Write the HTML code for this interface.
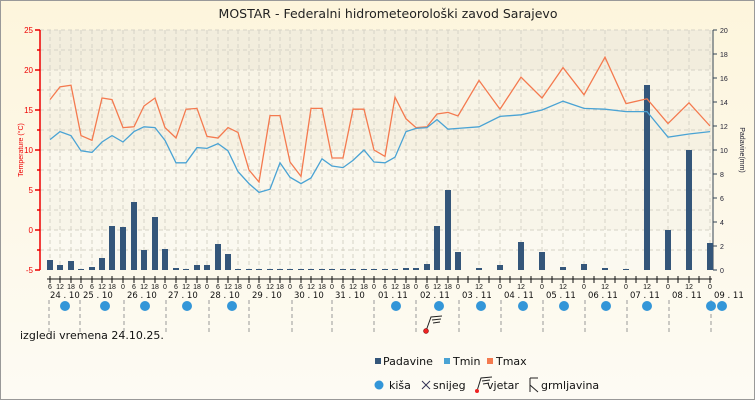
<!DOCTYPE html>
<html><head><meta charset="utf-8"><style>
html,body{margin:0;padding:0;}
body{width:755px;height:400px;overflow:hidden;font-family:"Liberation Sans",sans-serif;}
</style></head><body>
<svg width="755" height="400" xmlns="http://www.w3.org/2000/svg" font-family="DejaVu Sans, sans-serif">
<defs>
<linearGradient id="bg" x1="0" y1="0" x2="0" y2="1"><stop offset="0" stop-color="#fdf5dc"/><stop offset="1" stop-color="#fdfbf4"/></linearGradient>
</defs>
<rect x="0.5" y="0.5" width="754" height="399" fill="url(#bg)" stroke="#999"/>
<text x="388" y="18" font-size="12.5" text-anchor="middle" fill="#222">MOSTAR - Federalni hidrometeorološki zavod Sarajevo</text>
<rect x="40" y="30" width="672" height="40" fill="#f2eddd"/>
<rect x="40" y="70" width="672" height="40" fill="#f8f4e6"/>
<rect x="40" y="110" width="672" height="40" fill="#f6f1e2"/>
<rect x="40" y="150" width="672" height="40" fill="#faf7ec"/>
<rect x="40" y="190" width="672" height="40" fill="#f8f5e9"/>
<rect x="40" y="230" width="672" height="40" fill="#fbf9f0"/>
<g stroke="#d6d2c6" stroke-width="1" stroke-dasharray="4,3">
<path d="M40 30H712M40 50H712M40 70H712M40 90H712M40 110H712M40 130H712M40 150H712M40 170H712M40 190H712M40 210H712M40 230H712M40 250H712"/>
<path d="M50 30V270M60 30V270M71 30V270M81 30V270M92 30V270M102 30V270M112 30V270M123 30V270M134 30V270M144 30V270M155 30V270M165 30V270M176 30V270M186 30V270M197 30V270M207 30V270M218 30V270M228 30V270M238 30V270M249 30V270M259 30V270M270 30V270M280 30V270M290 30V270M301 30V270M311 30V270M322 30V270M332 30V270M343 30V270M353 30V270M364 30V270M374 30V270M385 30V270M395 30V270M406 30V270M416 30V270M427 30V270M437 30V270M448 30V270M458 30V270M479 30V270M500 30V270M521 30V270M542 30V270M563 30V270M584 30V270M605 30V270M626 30V270M647 30V270M668 30V270M689 30V270M710 30V270"/>
</g>
<g stroke="#e00" stroke-width="1.5"><path d="M40 30V270M35 30H40M37 50H40M35 70H40M37 90H40M35 110H40M37 130H40M35 150H40M37 170H40M35 190H40M37 210H40M35 230H40M37 250H40M35 270H40"/></g>
<g font-size="8" fill="#e00" text-anchor="end" font-family="Liberation Sans, sans-serif"><text x="33" y="33">25</text><text x="33" y="73">20</text><text x="33" y="113">15</text><text x="33" y="153">10</text><text x="33" y="193">5</text><text x="33" y="233">0</text><text x="33" y="273">-5</text></g>
<text transform="translate(23,150) rotate(-90)" font-size="7" fill="#e00" text-anchor="middle" font-family="Liberation Sans, sans-serif">Temperature (°C)</text>
<g stroke="#345" stroke-width="1"><path d="M713 30V270M713 30H717M713 54H717M713 78H717M713 102H717M713 126H717M713 150H717M713 174H717M713 198H717M713 222H717M713 246H717M713 270H717"/></g>
<g font-size="7" fill="#223" font-family="Liberation Sans, sans-serif"><text x="720" y="33">20</text><text x="720" y="57">18</text><text x="720" y="81">16</text><text x="720" y="105">14</text><text x="720" y="129">12</text><text x="720" y="153">10</text><text x="720" y="177">8</text><text x="720" y="201">6</text><text x="720" y="225">4</text><text x="720" y="249">2</text><text x="720" y="273">0</text></g>
<text transform="translate(740,150) rotate(90)" font-size="7" fill="#223" text-anchor="middle" font-family="Liberation Sans, sans-serif">Padavine(mm)</text>
<g fill="#34567a">
<rect x="47" y="260" width="6" height="10"/><rect x="57" y="265" width="6" height="5"/><rect x="68" y="261" width="6" height="9"/><rect x="78" y="269" width="6" height="1"/><rect x="89" y="267" width="6" height="3"/><rect x="99" y="258" width="6" height="12"/><rect x="109" y="226" width="6" height="44"/><rect x="120" y="227" width="6" height="43"/><rect x="131" y="202" width="6" height="68"/><rect x="141" y="250" width="6" height="20"/><rect x="152" y="217" width="6" height="53"/><rect x="162" y="249" width="6" height="21"/><rect x="173" y="268" width="6" height="2"/><rect x="183" y="269" width="6" height="1"/><rect x="194" y="265" width="6" height="5"/><rect x="204" y="265" width="6" height="5"/><rect x="215" y="244" width="6" height="26"/><rect x="225" y="254" width="6" height="16"/>
<rect x="235" y="269" width="6" height="1"/><rect x="246" y="269" width="6" height="1"/><rect x="256" y="269" width="6" height="1"/><rect x="267" y="269" width="6" height="1"/><rect x="277" y="269" width="6" height="1"/><rect x="287" y="269" width="6" height="1"/><rect x="298" y="269" width="6" height="1"/><rect x="308" y="269" width="6" height="1"/><rect x="319" y="269" width="6" height="1"/><rect x="329" y="269" width="6" height="1"/><rect x="340" y="269" width="6" height="1"/><rect x="350" y="269" width="6" height="1"/><rect x="361" y="269" width="6" height="1"/><rect x="371" y="269" width="6" height="1"/><rect x="382" y="269" width="6" height="1"/><rect x="392" y="269" width="6" height="1"/>
<rect x="403" y="268" width="6" height="2"/><rect x="413" y="268" width="6" height="2"/><rect x="424" y="264" width="6" height="6"/><rect x="434" y="226" width="6" height="44"/><rect x="445" y="190" width="6" height="80"/><rect x="455" y="252" width="6" height="18"/><rect x="476" y="268" width="6" height="2"/><rect x="497" y="265" width="6" height="5"/><rect x="518" y="242" width="6" height="28"/><rect x="539" y="252" width="6" height="18"/><rect x="560" y="267" width="6" height="3"/><rect x="581" y="264" width="6" height="6"/><rect x="602" y="268" width="6" height="2"/><rect x="623" y="269" width="6" height="1"/><rect x="644" y="85" width="6" height="185"/><rect x="665" y="230" width="6" height="40"/><rect x="686" y="150" width="6" height="120"/><rect x="707" y="243" width="6" height="27"/>
</g>
<polyline fill="none" stroke="#f47a4f" stroke-width="1.3" points="50,99.6 60,86.8 71,85.2 81,135.6 92,140.4 102,98 112,99.6 123,127.6 134,126.8 144,106 155,98 165,127.6 176,138 186,109.2 197,108.4 207,136.4 218,138 228,127.6 238,132.4 249,170 259,182 270,115.6 280,115.6 290,162 301,176.4 311,108.4 322,108.4 332,158 343,158 353,109.2 364,109.2 374,150 385,156.4 395,97.2 406,118.8 416,127.6 427,126.8 437,114 448,112.4 458,116 479,80.4 500,109.2 521,77.2 542,98 563,67.6 584,94.8 605,57.2 626,103.6 647,98.8 668,123.6 689,102.8 710,126"/>
<polyline fill="none" stroke="#4aa3d4" stroke-width="1.3" points="50,139.6 60,131.6 71,135.6 81,150.8 92,152.4 102,142 112,135.6 123,142 134,131.6 144,126.8 155,127.6 165,140.4 176,162.8 186,162.8 197,147.6 207,148.4 218,143.6 228,150.8 238,171.6 249,183.6 259,192.4 270,189.2 280,162.8 290,177.2 301,183.6 311,178 322,158.8 332,166 343,167.6 353,160.4 364,150 374,162 385,162.8 395,157.2 406,131.6 416,128.4 427,127.6 437,119.6 448,129.2 458,128.4 479,126.8 500,116.4 521,114.8 542,110 563,101.2 584,108.4 605,109.2 626,111.6 647,111.6 668,137.2 689,134 710,131.6"/>
<g stroke="#111" stroke-width="1"><path d="M47 279H712M50 276V283M60 276V283M71 276V283M81 276V283M92 276V283M102 276V283M112 276V283M123 276V283M134 276V283M144 276V283M155 276V283M165 276V283M176 276V283M186 276V283M197 276V283M207 276V283M218 276V283M228 276V283M238 276V283M249 276V283M259 276V283M270 276V283M280 276V283M290 276V283M301 276V283M311 276V283M322 276V283M332 276V283M343 276V283M353 276V283M364 276V283M374 276V283M385 276V283M395 276V283M406 276V283M416 276V283M427 276V283M437 276V283M448 276V283M458 276V283M468 276V283M479 276V283M489 276V283M500 276V283M510 276V283M521 276V283M531 276V283M542 276V283M552 276V283M563 276V283M573 276V283M584 276V283M594 276V283M605 276V283M615 276V283M626 276V283M636 276V283M647 276V283M657 276V283M668 276V283M678 276V283M689 276V283M699 276V283M710 276V283"/></g>
<g font-size="7" fill="#111" text-anchor="middle" font-family="Liberation Sans, sans-serif">
<text x="50" y="289">6</text><text x="60" y="289">12</text><text x="71" y="289">18</text><text x="81" y="289">0</text><text x="92" y="289">6</text><text x="102" y="289">12</text><text x="112" y="289">18</text><text x="123" y="289">0</text><text x="134" y="289">6</text><text x="144" y="289">12</text><text x="155" y="289">18</text><text x="165" y="289">0</text><text x="176" y="289">6</text><text x="186" y="289">12</text><text x="197" y="289">18</text><text x="207" y="289">0</text><text x="218" y="289">6</text><text x="228" y="289">12</text><text x="238" y="289">18</text><text x="249" y="289">0</text><text x="259" y="289">6</text><text x="270" y="289">12</text><text x="280" y="289">18</text><text x="290" y="289">0</text><text x="301" y="289">6</text><text x="311" y="289">12</text><text x="322" y="289">18</text><text x="332" y="289">0</text><text x="343" y="289">6</text><text x="353" y="289">12</text><text x="364" y="289">18</text><text x="374" y="289">0</text><text x="385" y="289">6</text><text x="395" y="289">12</text><text x="406" y="289">18</text><text x="416" y="289">0</text><text x="427" y="289">6</text><text x="437" y="289">12</text><text x="448" y="289">18</text><text x="458" y="289">0</text><text x="479" y="289">12</text><text x="500" y="289">0</text><text x="521" y="289">12</text><text x="542" y="289">0</text><text x="563" y="289">12</text><text x="584" y="289">0</text><text x="605" y="289">12</text><text x="626" y="289">0</text><text x="647" y="289">12</text><text x="668" y="289">0</text><text x="689" y="289">12</text><text x="710" y="289">0</text>
</g>
<g font-size="8.5" fill="#111">
<text x="50" y="298">24 . 10</text><text x="83" y="298">25 . 10</text><text x="127" y="298">26 . 10</text><text x="168" y="298">27 . 10</text><text x="210" y="298">28 . 10</text><text x="252" y="298">29 . 10</text><text x="294" y="298">30 . 10</text><text x="335" y="298">31 . 10</text><text x="378" y="298">01 . 11</text><text x="420" y="298">02 . 11</text><text x="462" y="298">03 . 11</text><text x="504" y="298">04 . 11</text><text x="546" y="298">05 . 11</text><text x="588" y="298">06 . 11</text><text x="630" y="298">07 . 11</text><text x="672" y="298">08 . 11</text><text x="714" y="298">09 . 11</text>
</g>
<g stroke="#999" stroke-dasharray="4,3"><path d="M49 300V332M80 300V332M124 300V332M166 300V332M209 300V332M249 300V332M292 300V332M332 300V332M374 300V332M416 300V332M459 300V332M501 300V332M543 300V332M585 300V332M627 300V332M669 300V332M711 300V332"/></g>
<g fill="#3396d8">
<circle cx="65" cy="306" r="5"/><circle cx="105" cy="306" r="5"/><circle cx="145" cy="306" r="5"/><circle cx="187" cy="306" r="5"/><circle cx="232" cy="306" r="5"/><circle cx="396" cy="306" r="5"/><circle cx="439" cy="306" r="5"/><circle cx="481" cy="306" r="5"/><circle cx="523" cy="306" r="5"/><circle cx="564" cy="306" r="5"/><circle cx="606" cy="306" r="5"/><circle cx="647" cy="306" r="5"/><circle cx="711" cy="306" r="5"/><circle cx="722" cy="306" r="5"/>
</g>
<g stroke="#222" stroke-width="1" fill="none"><path d="M426 331L431 317L442 316M432 320L441 319M433 323L440 322"/></g>
<circle cx="426" cy="331" r="2.5" fill="#e22" stroke="#600" stroke-width="0.5"/>
<text x="20" y="339" font-size="11" fill="#111">izgledi vremena 24.10.25.</text>
<rect x="375" y="358" width="6" height="6" fill="#34567a"/><text x="383" y="365" font-size="11" fill="#111">Padavine</text>
<rect x="444" y="358" width="6" height="6" fill="#4aa3d4"/><text x="453" y="365" font-size="11" fill="#111">Tmin</text>
<rect x="487" y="358" width="6" height="6" fill="#f47a4f"/><text x="496" y="365" font-size="11" fill="#111">Tmax</text>
<circle cx="379" cy="385" r="4.5" fill="#3396d8"/><text x="389" y="389" font-size="11" fill="#111">kiša</text>
<path d="M422 381L430 389M430 381L422 389" stroke="#335" stroke-width="1"/><text x="433" y="389" font-size="11" fill="#111">snijeg</text>
<path d="M477 391L481 378L492 377M482 381L490 380M483 384L489 383" stroke="#222" fill="none"/><circle cx="477" cy="391" r="2" fill="#e22"/><text x="487" y="389" font-size="11" fill="#111">vjetar</text>
<path d="M530 378V392M530 378L538 378M530 385L538 392" stroke="#222" fill="none"/><text x="541" y="389" font-size="11" fill="#111">grmljavina</text>
</svg>
</body></html>
